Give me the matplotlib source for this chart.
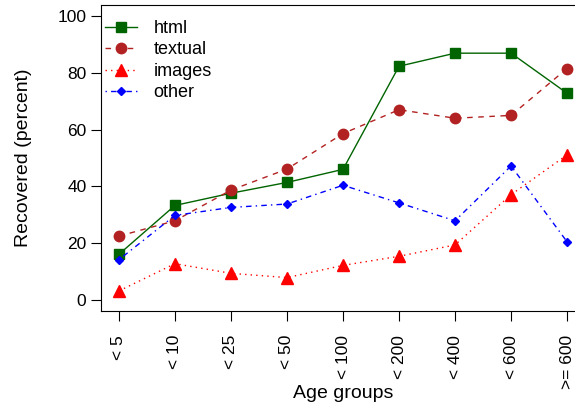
import numpy as np
import matplotlib.pyplot as plt

plt.rcParams['font.family'] = ['Liberation Sans', 'DejaVu Sans']

age_groups = ["< 5", "< 10", "< 25", "< 50", "< 100", "< 200", "< 400", "< 600", ">= 600"]
html = [16.1, 33.3, 37.6, 41.4, 46.0, 82.3, 86.9, 86.9, 72.8]
textual = [22.5, 27.9, 38.7, 46.1, 58.6, 67.0, 64.0, 65.0, 81.5]
images = [3.2, 12.8, 9.4, 7.9, 12.2, 15.4, 19.4, 37.1, 51.1]
other = [14.2, 29.8, 32.6, 33.8, 40.4, 34.2, 27.9, 47.2, 20.5]

fig = plt.figure(figsize=(5.75, 4.04), dpi=100)
# right edge of the box falls outside the image, like the original
ax = fig.add_axes([101 / 575, 1 - 311.4 / 404, 484 / 575, 306.8 / 404])

x = np.arange(1, len(age_groups) + 1)
ax.plot(x, html, color='#006400', linestyle='-', marker='s', markersize=7, lw=1, label='html')
ax.plot(x, textual, color='#B22222', linestyle=(0, (4, 4)), marker='o', markersize=7.5, lw=1, label='textual')
ax.plot(x, images, color='#FF0000', linestyle=(0, (1, 3)), marker='^', markersize=8, lw=1, label='images')
ax.plot(x, other, color='#0000FF', linestyle=(0, (1, 3, 4, 3)), marker='D', markersize=4.5, lw=1, label='other')

pad = 0.04 * (len(age_groups) - 1)
ax.set_xlim(1 - pad, len(age_groups) + pad)
ax.set_ylim(-4, 104)
ax.set_xticks(x)
ax.set_xticklabels(age_groups, rotation=90, fontsize=12.5)
ax.set_yticks(np.arange(0, 101, 20))
ax.tick_params(axis='y', labelsize=12.5, length=7, direction='out')
ax.tick_params(axis='x', length=7, direction='out', pad=10)
ax.set_xlabel("Age groups", fontsize=14)
ax.xaxis.set_label_coords(0.5, -0.24)
ax.set_ylabel("Recovered (percent)", fontsize=14, labelpad=18)

ax.legend(loc='upper left', bbox_to_anchor=(0.008, 0.95), frameon=False, fontsize=13,
          handlelength=1.8, borderaxespad=0, borderpad=0, labelspacing=0.25,
          handletextpad=0.9)

fig.savefig("out.png", dpi=100)
